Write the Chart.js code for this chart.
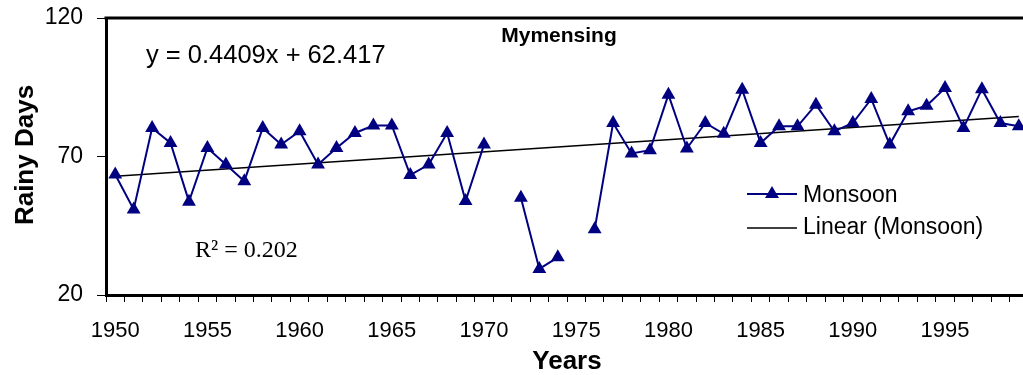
<!DOCTYPE html>
<html>
<head>
<meta charset="utf-8">
<script src="https://cdn.jsdelivr.net/npm/chart.js@4.4.1/dist/chart.umd.min.js"></script>
<style>
  html, body { margin: 0; padding: 0; background: #fff; overflow: hidden; }
  #grafico { display: block; }
</style>
</head>
<body>
<canvas id="grafico" width="1036" height="375"></canvas>
<script>
// categorias: años 1950-1999
const anios = Array.from({ length: 50 }, (_, i) => String(1950 + i));

// dias de lluvia del monzon (null = sin dato)
const monzon = [
    63.5, 50.9, 80.3, 74.9, 53.7, 73.1, 67.1, 61.1, 80.3, 74.3,
    79.1, 67.1, 73.1, 78.5, 81.2, 81.2, 63.3, 67.1, 78.5, 53.9,
    74.3, null, 55.1, 29.4, 33.6, null, 43.7, 82.1, 71.1, 72.3,
    92.3, 72.9, 82.1, 78.2, 94.1, 74.9, 80.9, 80.9, 88.7, 79.1,
    82.1, 90.8, 74.3, 86.3, 88.3, 94.7, 80.3, 94.3, 82.1, 80.9
];

// tendencia lineal y = 0.4409x + 62.417 (x = 1..50)
const pendiente = 0.4409;
const intercepto = 62.417;
const tendencia = anios.map((_, i) =>
    (i === 0 || i === anios.length - 1) ? intercepto + pendiente * (i + 1) : null);

const ticksY = [20, 70, 120];

const AZUL = '#000080';
const SANS = "'Liberation Sans', Arial, sans-serif";
const SERIF = "'Liberation Serif', 'Times New Roman', serif";

const textos = {
    id: 'textos',
    afterDraw(chart) {
        const { ctx, chartArea } = chart;
        ctx.save();

        // borde superior del area de trazado
        ctx.strokeStyle = '#000';
        ctx.lineWidth = 3;
        ctx.beginPath();
        ctx.moveTo(chartArea.left - 1.5, chartArea.top);
        ctx.lineTo(chartArea.right, chartArea.top);
        ctx.stroke();

        ctx.fillStyle = '#000';
        ctx.textBaseline = 'alphabetic';

        ctx.textAlign = 'center';
        ctx.font = "bold 21px " + SANS;
        ctx.fillText('Mymensing', 559, 42);

        ctx.textAlign = 'left';
        ctx.font = "25.5px " + SANS;
        ctx.fillText('y = 0.4409x + 62.417', 146, 63);

        ctx.font = "24px " + SERIF;
        ctx.fillText('R² = 0.202', 195, 257);

        // leyenda
        ctx.strokeStyle = AZUL;
        ctx.lineWidth = 2;
        ctx.beginPath();
        ctx.moveTo(747, 194);
        ctx.lineTo(797, 194);
        ctx.stroke();
        ctx.fillStyle = AZUL;
        ctx.beginPath();
        ctx.moveTo(772, 186);
        ctx.lineTo(779, 198);
        ctx.lineTo(765, 198);
        ctx.closePath();
        ctx.fill();

        ctx.strokeStyle = '#000';
        ctx.lineWidth = 1.5;
        ctx.beginPath();
        ctx.moveTo(747, 228);
        ctx.lineTo(797, 228);
        ctx.stroke();

        ctx.fillStyle = '#000';
        ctx.font = "23px " + SANS;
        ctx.fillText('Monsoon', 803, 202);
        ctx.fillText('Linear (Monsoon)', 803, 234);

        // titulos de ejes
        ctx.textAlign = 'center';
        ctx.font = "bold 26px " + SANS;
        ctx.fillText('Years', 567, 369);

        ctx.translate(33, 155);
        ctx.rotate(-Math.PI / 2);
        ctx.fillText('Rainy Days', 0, 0);

        ctx.restore();
    }
};

new Chart(document.getElementById('grafico'), {
    type: 'line',
    data: {
        labels: anios,
        datasets: [
            {
                label: 'Monsoon',
                data: monzon,
                borderColor: AZUL,
                backgroundColor: AZUL,
                borderWidth: 2,
                pointStyle: 'triangle',
                pointRadius: 8,
                pointBorderWidth: 0,
                spanGaps: false,
                tension: 0
            },
            {
                label: 'Linear (Monsoon)',
                data: tendencia,
                borderColor: '#000',
                borderWidth: 1.5,
                pointRadius: 0,
                spanGaps: true,
                tension: 0
            }
        ]
    },
    options: {
        responsive: false,
        animation: false,
        layout: { padding: { top: 18, right: 2, left: 0, bottom: 0 } },
        plugins: {
            legend: { display: false },
            tooltip: { enabled: false }
        },
        scales: {
            x: {
                type: 'category',
                offset: true,
                afterFit: (s) => { s.height = 80; },
                border: { display: true, color: '#000', width: 3 },
                grid: {
                    offset: true,
                    drawOnChartArea: false,
                    drawTicks: true,
                    tickLength: 7,
                    color: '#000',
                    lineWidth: 1
                },
                ticks: {
                    autoSkip: false,
                    maxRotation: 0,
                    padding: 16,
                    color: '#000',
                    font: { family: SANS, size: 22 },
                    callback: function (v, i) {
                        const a = Number(anios[i]);
                        return a % 5 === 0 ? anios[i] : '';
                    }
                }
            },
            y: {
                min: ticksY[0],
                max: ticksY[ticksY.length - 1],
                afterFit: (s) => {
                    s.width = 106;
                    s.paddingTop = 0;
                    s.paddingBottom = 0;
                },
                afterBuildTicks: (s) => { s.ticks = ticksY.map(v => ({ value: v })); },
                border: { display: true, color: '#000', width: 3 },
                grid: {
                    drawOnChartArea: false,
                    drawTicks: true,
                    tickLength: 9,
                    color: '#000',
                    lineWidth: 1
                },
                ticks: {
                    padding: 14,
                    color: '#000',
                    font: { family: SANS, size: 23 }
                }
            }
        }
    },
    plugins: [textos]
});
</script>
</body>
</html>
